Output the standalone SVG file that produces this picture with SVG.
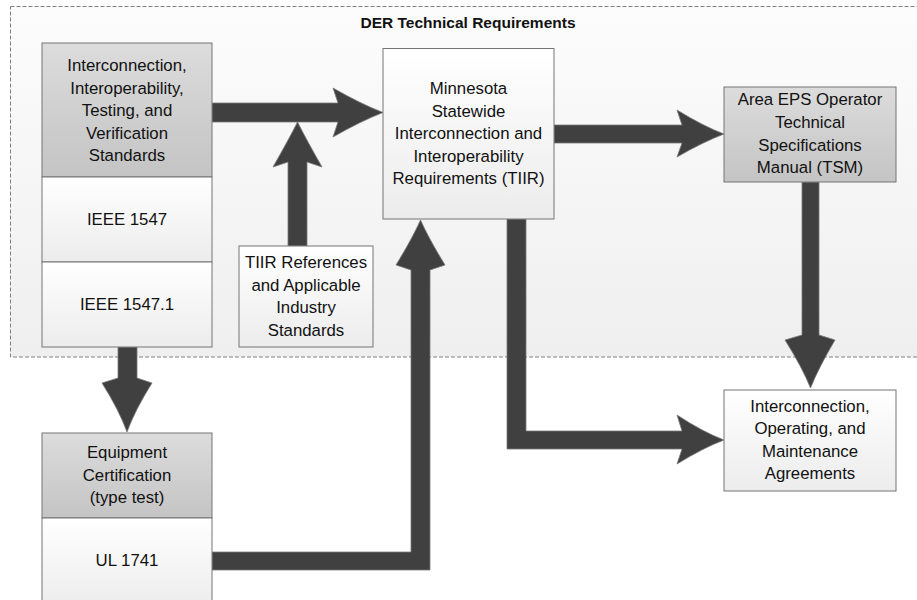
<svg xmlns="http://www.w3.org/2000/svg" width="917" height="600" viewBox="0 0 917 600">
<defs>
<linearGradient id="gBg" x1="0" y1="0" x2="0" y2="1"><stop offset="0" stop-color="#fcfcfc"/><stop offset="1" stop-color="#efefef"/></linearGradient>
<linearGradient id="gHead" x1="0" y1="0" x2="0" y2="1"><stop offset="0" stop-color="#dcdcdc"/><stop offset="1" stop-color="#c4c4c4"/></linearGradient>
<linearGradient id="gWhite" x1="0" y1="0" x2="0" y2="1"><stop offset="0" stop-color="#ffffff"/><stop offset="1" stop-color="#ececec"/></linearGradient>
<style>
.box{stroke:#747474;stroke-width:1}
.head{fill:url(#gHead)}
.wht{fill:url(#gWhite)}
.t{font-family:"Liberation Sans",Arial,sans-serif;font-size:16.8px;fill:#111;text-anchor:middle}
.title{font-family:"Liberation Sans",Arial,sans-serif;font-size:15.5px;font-weight:bold;fill:#111;text-anchor:middle}
.arr{fill:#404040;stroke:#7a7a7a;stroke-width:0.8;stroke-linejoin:miter}
</style>
</defs>
<g id="container">
<rect x="10.5" y="6.5" width="920" height="350.5" fill="url(#gBg)" stroke="#808080" stroke-width="1" stroke-dasharray="4,2"/>
<text class="title" x="468" y="28">DER Technical Requirements</text>
</g>
<g id="connectors">
<path class="arr" d="M212,103 L338,103 L333,88 Q361,104 383,112.5 Q361,121 333,137 L338,122 L212,122 Z"/>
<path class="arr" d="M288,162 L273,167 Q289,139 297.5,122 Q306,139 322,167 L307,162 L307,246 L288,246 Z"/>
<path class="arr" d="M554,125 L682,125 L677,110 Q703,126 724,134 Q703,142 677,157 L682,143 L554,143 Z"/>
<path class="arr" d="M802,182 L802,335 L785,340 Q802,367 810.5,388 Q819,367 835,340 L819,335 L819,182 Z"/>
<path class="arr" d="M507,219 L507,449 L682,449 L677,464 Q703,448 724,440 Q703,432 677,415 L682,431 L526,431 L526,219 Z"/>
<path class="arr" d="M118,347 L118,378 L102,383 Q119,410 127,432 Q135,410 152,383 L137,378 L137,347 Z"/>
<path class="arr" d="M212,552 L411,552 L411,270 L396,265 Q412,239 420.5,220 Q429,239 445,265 L430,270 L430,570 L212,570 Z"/>
</g>
<g id="standards">
<rect class="box head" x="42" y="43" width="170" height="134"/>
<text class="t" x="127" y="71">Interconnection,</text>
<text class="t" x="127" y="93.5">Interoperability,</text>
<text class="t" x="127" y="116">Testing, and</text>
<text class="t" x="127" y="138.5">Verification</text>
<text class="t" x="127" y="161">Standards</text>
</g>
<g id="ieee1547">
<rect class="box wht" x="42" y="177" width="170" height="85"/>
<text class="t" x="127" y="225">IEEE 1547</text>
</g>
<g id="ieee15471">
<rect class="box wht" x="42" y="262" width="170" height="85"/>
<text class="t" x="127" y="310">IEEE 1547.1</text>
</g>
<g id="tiir-refs">
<rect class="box wht" x="239" y="246" width="134" height="101"/>
<text class="t" x="306" y="268">TIIR References</text>
<text class="t" x="306" y="291">and Applicable</text>
<text class="t" x="306" y="313">Industry</text>
<text class="t" x="306" y="336">Standards</text>
</g>
<g id="tiir">
<rect class="box wht" x="383" y="48.5" width="171" height="170.5"/>
<text class="t" x="468.5" y="94">Minnesota</text>
<text class="t" x="468.5" y="116.5">Statewide</text>
<text class="t" x="468.5" y="139">Interconnection and</text>
<text class="t" x="468.5" y="161.5">Interoperability</text>
<text class="t" x="468.5" y="184">Requirements (TIIR)</text>
</g>
<g id="tsm">
<rect class="box head" x="724" y="87" width="172" height="95"/>
<text class="t" x="810" y="105">Area EPS Operator</text>
<text class="t" x="810" y="128">Technical</text>
<text class="t" x="810" y="151">Specifications</text>
<text class="t" x="810" y="173">Manual (TSM)</text>
</g>
<g id="agreements">
<rect class="box wht" x="724" y="390" width="172" height="101"/>
<text class="t" x="810" y="412">Interconnection,</text>
<text class="t" x="810" y="434">Operating, and</text>
<text class="t" x="810" y="457">Maintenance</text>
<text class="t" x="810" y="479">Agreements</text>
</g>
<g id="equipment">
<rect class="box head" x="42" y="433" width="170" height="85"/>
<text class="t" x="127" y="458">Equipment</text>
<text class="t" x="127" y="481">Certification</text>
<text class="t" x="127" y="503">(type test)</text>
</g>
<g id="ul1741">
<rect class="box wht" x="42" y="518" width="170" height="90"/>
<text class="t" x="127" y="566">UL 1741</text>
</g>
</svg>
